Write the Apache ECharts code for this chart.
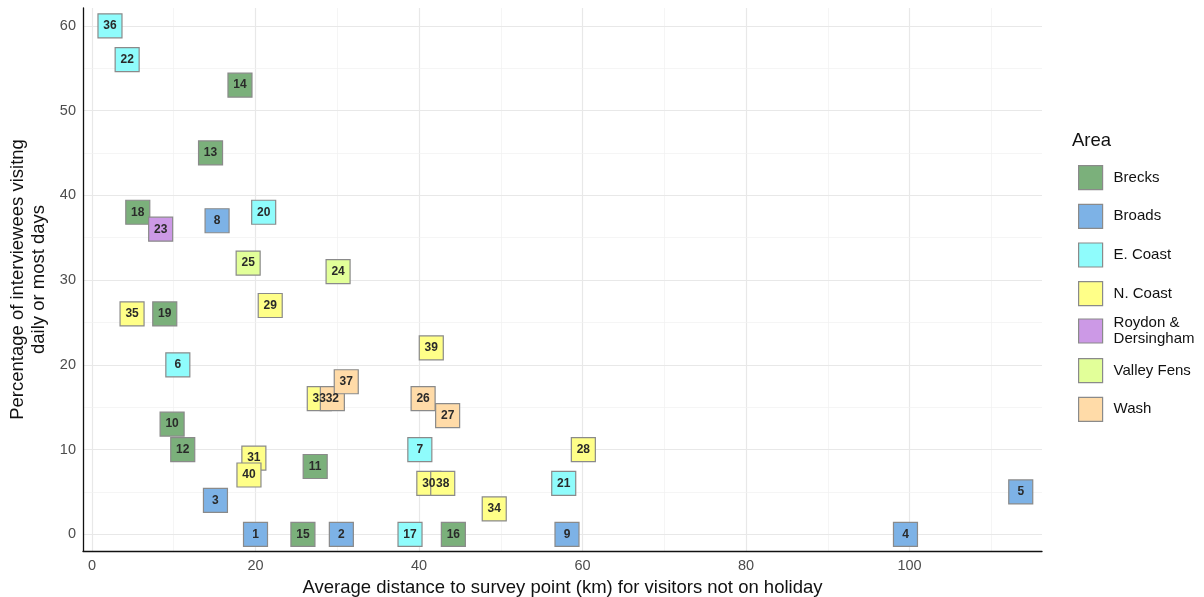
<!DOCTYPE html>
<html>
<head>
<meta charset="utf-8">
<script src="https://cdn.jsdelivr.net/npm/echarts@6/dist/echarts.min.js"></script>
<style>html,body{margin:0;padding:0;background:#fff}#c{width:1204px;height:597px}</style>
</head>
<body>
<div id="c"></div>
<script>
// ---- data ----
const siteIds  = [1,2,3,4,5,6,7,8,9,10,11,12,13,14,15,16,17,18,19,20,21,22,23,24,25,26,27,28,29,30,31,32,33,34,35,36,37,38,39,40];
const distKm   = [20.0,30.5,15.1,99.5,113.6,10.5,40.1,15.3,58.1,9.8,27.3,11.1,14.5,18.1,25.8,44.2,38.9,5.6,8.9,21.0,57.7,4.3,8.4,30.1,19.1,40.5,43.5,60.1,21.8,41.2,19.8,29.4,27.8,49.2,4.9,2.2,31.1,42.9,41.5,19.2];
const pctDaily = [0,0,4,0,5,20,10,37,0,13,8,10,45,53,0,0,0,38,26,38,6,56,36,31,32,16,14,10,27,6,9,16,16,3,26,60,18,6,22,7];
const siteArea = ['Broads','Broads','Broads','Broads','Broads','E. Coast','E. Coast','Broads','Broads','Brecks',
                  'Brecks','Brecks','Brecks','Brecks','Brecks','Brecks','E. Coast','Brecks','Brecks','E. Coast',
                  'E. Coast','E. Coast','Roydon & Dersingham','Valley Fens','Valley Fens','Wash','Wash','N. Coast','N. Coast','N. Coast',
                  'N. Coast','Wash','N. Coast','N. Coast','N. Coast','E. Coast','Wash','N. Coast','N. Coast','N. Coast'];
const areaNames  = ['Brecks','Broads','E. Coast','N. Coast','Roydon & Dersingham','Valley Fens','Wash'];
const areaColors = ['#7bb07b','#7db2e6','#8ffcfc','#ffff88','#cc99e6','#e2ff99','#ffdba8'];
const xGridVals = [0,10,20,30,40,50,60,70,80,90,100,110];
const yGridVals = [0,5,10,15,20,25,30,35,40,45,50,55,60];
const xLabelStep = 20, yLabelStep = 10;

const FONT = 'Liberation Sans, Arial, sans-serif';
const chart = echarts.init(document.getElementById('c'));

const gridLines = [];
xGridVals.forEach(v => gridLines.push({xAxis: v, lineStyle: {color: v % xLabelStep === 0 ? '#e8e8e8' : '#f0f0f0', width: v % xLabelStep === 0 ? 1.2 : 0.7, type: 'solid'}}));
yGridVals.forEach(v => gridLines.push({yAxis: v, lineStyle: {color: v % yLabelStep === 0 ? '#e8e8e8' : '#f0f0f0', width: v % yLabelStep === 0 ? 1.2 : 0.7, type: 'solid'}}));

const series = [{
  name: '__grid', type: 'scatter', data: [], z: 0, silent: true,
  markLine: {silent: true, symbol: ['none','none'], label: {show: false}, z: 0, animation: false, data: gridLines}
}];
areaNames.forEach((a, ai) => {
  const d = [];
  siteIds.forEach((id, i) => { if (siteArea[i] === a) d.push([distKm[i], pctDaily[i], id]); });
  series.push({
    name: a, type: 'scatter', z: 3, clip: false,
    symbol: 'rect', symbolSize: 24,
    itemStyle: {color: areaColors[ai], borderColor: '#8a8a8a', borderWidth: 1.2, borderRadius: 2, opacity: 1},
    label: {show: true, position: 'inside', formatter: p => String(p.data[2]), fontSize: 12, fontWeight: 'bold', color: '#2a2a2a', fontFamily: FONT},
    emphasis: {disabled: true},
    data: d
  });
});

const legendBase = {
  orient: 'vertical', left: 1078, padding: 0, itemWidth: 24, itemHeight: 24, itemGap: 13.5,
  icon: 'rect', selectedMode: false,
  itemStyle: {borderColor: '#8a8a8a', borderWidth: 1.2},
  textStyle: {fontSize: 15, color: '#111', padding: [0,0,0,6], fontFamily: FONT}
};

chart.setOption({
  animation: false,
  textStyle: {fontFamily: FONT},
  title: {text: 'Area', left: 1067, top: 126, textStyle: {fontSize: 18.5, fontWeight: 'normal', color: '#111', fontFamily: FONT}},
  legend: [
    Object.assign({}, legendBase, {top: 165, data: areaNames.slice(0, 4)}),
    Object.assign({}, legendBase, {top: 312.5, data: areaNames.slice(4, 5),
      textStyle: {fontSize: 15, color: '#111', padding: [6,0,0,6], lineHeight: 15.5, fontFamily: FONT},
      formatter: n => n === 'Roydon & Dersingham' ? 'Roydon &\nDersingham' : n}),
    Object.assign({}, legendBase, {top: 358, data: areaNames.slice(5)})
  ],
  grid: {left: 83, right: 162, top: 8, bottom: 46, containLabel: false, outerBoundsMode: 'none'},
  xAxis: {
    type: 'value', min: -1.1, max: 116.2, splitNumber: 6,
    name: 'Average distance to survey point (km) for visitors not on holiday',
    nameLocation: 'middle', nameGap: 27,
    nameTextStyle: {fontSize: 18.5, color: '#111', fontFamily: FONT},
    axisLine: {show: true, onZero: false, lineStyle: {color: '#111', width: 1.3}},
    axisTick: {show: false},
    splitLine: {show: false},
    axisLabel: {margin: 7, fontSize: 14.5, color: '#4d4d4d', showMinLabel: false, showMaxLabel: false,
      formatter: v => (Math.abs(v % xLabelStep) < 1e-6 ? String(v) : '')}
  },
  yAxis: {
    type: 'value', min: -1.97, max: 62.1, splitNumber: 6,
    name: 'Percentage of interviewees visitng\ndaily or most days',
    nameLocation: 'middle', nameGap: 34, nameRotate: 90,
    nameTextStyle: {fontSize: 18.5, color: '#111', lineHeight: 21, fontFamily: FONT},
    axisLine: {show: true, onZero: false, lineStyle: {color: '#111', width: 1.3}},
    axisTick: {show: false},
    splitLine: {show: false},
    axisLabel: {margin: 7, fontSize: 14.5, color: '#4d4d4d', showMinLabel: false, showMaxLabel: false,
      formatter: v => (Math.abs(v % yLabelStep) < 1e-6 ? String(v) : '')}
  },
  series: series
});
</script>
</body>
</html>
